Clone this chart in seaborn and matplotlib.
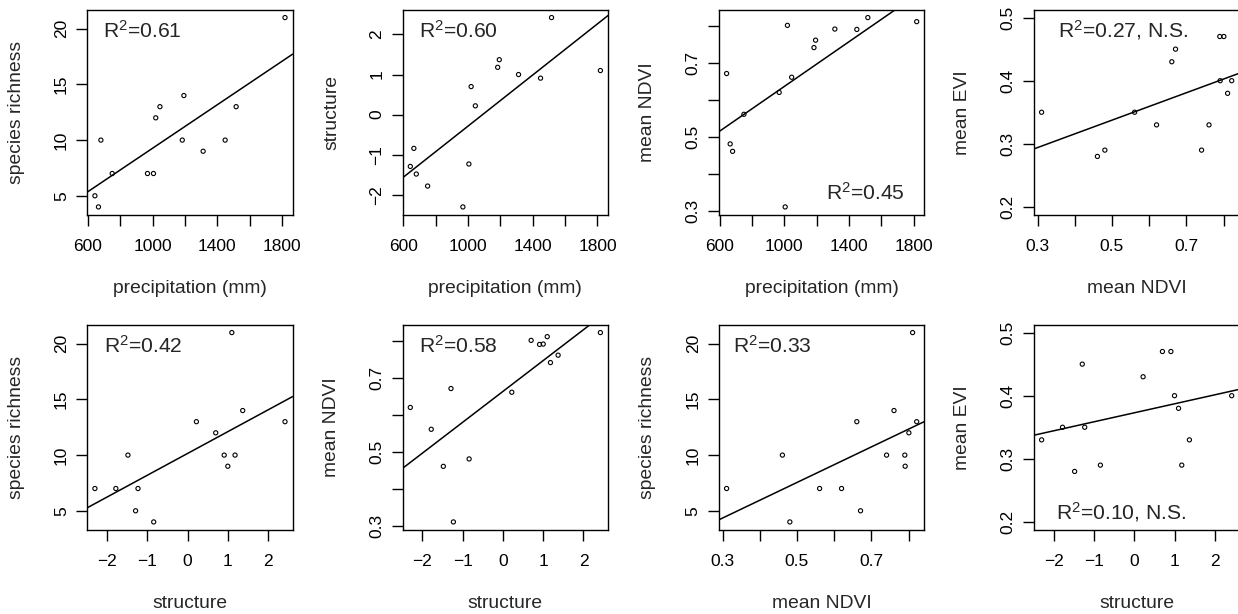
import matplotlib
matplotlib.use("Agg")
import matplotlib.pyplot as plt
import seaborn as sns

# values per site (14 sites)
precip = [643, 665, 680, 750, 968, 1005, 1019, 1045, 1183, 1193, 1312, 1448, 1516, 1818]
richness = [5, 4, 10, 7, 7, 7, 12, 13, 10, 14, 9, 10, 13, 21]
structure = [-1.29, -0.84, -1.48, -1.78, -2.30, -1.23, 0.70, 0.22, 1.18, 1.37, 1.00, 0.91, 2.42, 1.10]
ndvi = [0.671, 0.481, 0.461, 0.561, 0.620, 0.311, 0.801, 0.661, 0.741, 0.761, 0.791, 0.790, 0.822, 0.811]
evi = [0.45, 0.29, 0.28, 0.35, 0.33, 0.35, 0.47, 0.43, 0.29, 0.33, 0.40, 0.47, 0.40, 0.38]

# tick positions and labels (R drops labels that would overlap)
precip_ticks = [600, 800, 1000, 1200, 1400, 1600, 1800]
precip_labels = ["600", "", "1000", "", "1400", "", "1800"]
rich_ticks = [5, 10, 15, 20]
rich_labels = ["5", "10", "15", "20"]
struct_ticks = [-2, -1, 0, 1, 2]
struct_labels = ["\u22122", "\u22121", "0", "1", "2"]
ndvi_ticks = [0.3, 0.4, 0.5, 0.6, 0.7, 0.8]
ndvi_labels = ["0.3", "", "0.5", "", "0.7", ""]
evi_ticks = [0.2, 0.3, 0.4, 0.5]
evi_labels = ["0.2", "0.3", "0.4", "0.5"]
evi_range = (0.2, 0.5)

r2_text = ["R$^2$=0.61", "R$^2$=0.60", "R$^2$=0.45", "R$^2$=0.27, N.S.",
           "R$^2$=0.42", "R$^2$=0.58", "R$^2$=0.33", "R$^2$=0.10, N.S."]

sns.set_style("ticks")
plt.rcParams["font.family"] = ["Liberation Sans", "DejaVu Sans"]
plt.rcParams["mathtext.default"] = "regular"
plt.rcParams["axes.linewidth"] = 1.0

# panels: x, y, labels, ticks, fixed y range, annotation position/alignment
panels = [
    (precip, richness, "precipitation (mm)", "species richness",
     precip_ticks, precip_labels, rich_ticks, rich_labels, None, (0.075, 0.866, "left")),
    (precip, structure, "precipitation (mm)", "structure",
     precip_ticks, precip_labels, struct_ticks, struct_labels, None, (0.081, 0.866, "left")),
    (precip, ndvi, "precipitation (mm)", "mean NDVI",
     precip_ticks, precip_labels, ndvi_ticks, ndvi_labels, None, (0.903, 0.073, "right")),
    (ndvi, evi, "mean NDVI", "mean EVI",
     ndvi_ticks, ndvi_labels, evi_ticks, evi_labels, evi_range, (0.115, 0.866, "left")),
    (structure, richness, "structure", "species richness",
     struct_ticks, struct_labels, rich_ticks, rich_labels, None, (0.081, 0.862, "left")),
    (structure, ndvi, "structure", "mean NDVI",
     struct_ticks, struct_labels, ndvi_ticks, ndvi_labels, None, (0.081, 0.866, "left")),
    (ndvi, richness, "mean NDVI", "species richness",
     ndvi_ticks, ndvi_labels, rich_ticks, rich_labels, None, (0.070, 0.866, "left")),
    (structure, evi, "structure", "mean EVI",
     struct_ticks, struct_labels, evi_ticks, evi_labels, evi_range, (0.107, 0.049, "left")),
]


def r_range(lo, hi):
    # R style 4% padding
    d = (hi - lo) * 0.04
    return lo - d, hi + d


W, H = 1238, 614
fig = plt.figure(figsize=(W / 100, H / 100), dpi=100)
lefts = [87.3, 402.7, 719.0, 1034.0]
tops = [10.0, 325.0]
aw, ah = 205.3, 204.5

for i, (xv, yv, xl, yl, xt, xtl, yt, ytl, yfix, ann) in enumerate(panels):
    row, col = divmod(i, 4)
    ax = fig.add_axes([lefts[col] / W, 1 - (tops[row] + ah) / H, aw / W, ah / H])
    ax.set_xlim(*r_range(min(xv), max(xv)))
    sns.regplot(x=xv, y=yv, ax=ax, ci=None, truncate=False, color="black",
                scatter_kws=dict(s=9, facecolors="none", edgecolors="black",
                                 linewidths=0.8, alpha=1),
                line_kws=dict(color="black", lw=1.1))
    if yfix is None:
        ax.set_ylim(*r_range(min(yv), max(yv)))
    else:
        ax.set_ylim(*r_range(*yfix))

    ax.set_xticks(xt)
    ax.set_xticklabels(xtl, fontsize=12.5)
    ax.set_yticks(yt)
    ax.set_yticklabels(ytl, fontsize=12.5, rotation=90, va="center")
    ax.tick_params(axis="x", length=7.7, width=1.0, pad=10.2, colors="black")
    ax.tick_params(axis="y", length=7.7, width=1.0, pad=5.5, colors="black")
    for s in ax.spines.values():
        s.set_visible(True)
        s.set_color("black")

    ax.set_xlabel(xl, fontsize=13.9)
    ax.set_ylabel(yl, fontsize=13.9)
    ax.xaxis.set_label_coords(0.5, -0.318)
    ax.yaxis.set_label_coords(-0.305, 0.5)

    ax.text(ann[0], ann[1], r2_text[i], transform=ax.transAxes, fontsize=15.2,
            ha=ann[2], va="baseline")

fig.savefig("out.png", dpi=100)
